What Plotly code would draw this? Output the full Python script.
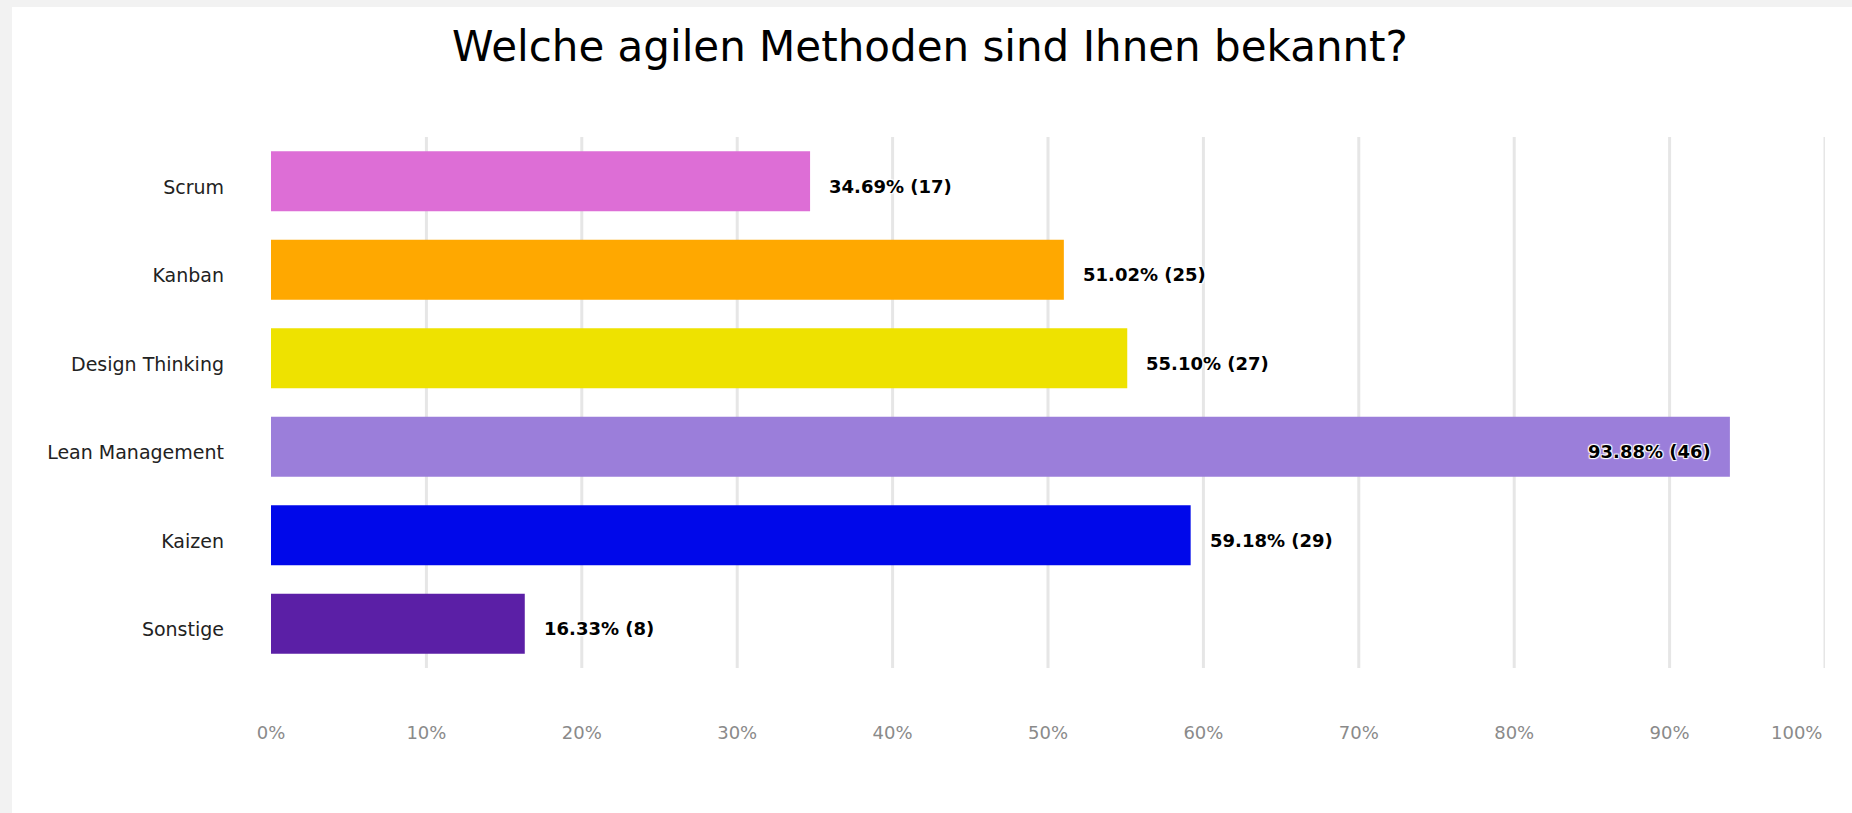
import plotly.graph_objects as go

categories = ["Scrum", "Kanban", "Design Thinking", "Lean Management", "Kaizen", "Sonstige"]
percent = [34.69, 51.02, 55.10, 93.88, 59.18, 16.33]
counts = [17, 25, 27, 46, 29, 8]
colors = ["#DD6ED6", "#FFA800", "#EEE200", "#9B7EDA", "#0008EA", "#5B1FA6"]
tick_vals = [0, 10, 20, 30, 40, 50, 60, 70, 80, 90]
tick_text = ["0%", "10%", "20%", "30%", "40%", "50%", "60%", "70%", "80%", "90%"]
last_tick_val = 100
last_tick_text = "100%"
grid_vals = [10, 20, 30, 40, 50, 60, 70, 80, 90, 100]
title_text = "Welche agilen Methoden sind Ihnen bekannt?"

FONT = "DejaVu Sans"
halo = "1px 1px 1px white, -1px -1px 1px white, 1px -1px 1px white, -1px 1px 1px white"
TICKFONT = dict(family=FONT, size=18, color="#8a8a8a")

L, R, T, B = 271, 27, 137, 145
PW = 1852 - L - R
PH = 813 - T - B

fig = go.Figure()
fig.add_trace(go.Bar(
    x=percent, y=categories, orientation="h",
    marker=dict(color=colors, line=dict(width=0)),
    width=0.68, hoverinfo="skip",
))

annotations = []
for cat, p, n in zip(categories, percent, counts):
    inside = p > 85
    annotations.append(dict(
        x=p, y=cat, xref="x", yref="y",
        text=f"{p:.2f}% ({n})", showarrow=False,
        xanchor="right" if inside else "left",
        xshift=-17 if inside else 17, yshift=-5,
        font=dict(family=FONT, size=18, color="#000000", weight="bold", shadow=halo),
    ))
# last tick label, kept inside the panel as in the original
annotations.append(dict(
    x=last_tick_val, y=0, xref="x", yref="paper", text=last_tick_text, showarrow=False,
    xanchor="right", yanchor="middle", xshift=-1, yshift=-64, font=TICKFONT,
))

shapes = [dict(type="rect", xref="paper", yref="paper",
               x0=(12 - L) / PW, x1=1.1,
               y0=-0.5, y1=(T + PH - 7) / PH,
               fillcolor="white", line=dict(width=0), layer="below")]
for g in grid_vals:
    shapes.append(dict(type="line", xref="x", yref="paper", x0=g, x1=g, y0=0, y1=1,
                       line=dict(color="#e6e6e6", width=3), layer="below"))

fig.update_layout(
    width=1852, height=813,
    margin=dict(l=L, r=R, t=T, b=B, pad=0),
    paper_bgcolor="#f2f2f2", plot_bgcolor="rgba(0,0,0,0)",
    title=dict(text=title_text, x=930 / 1852, xanchor="center", xref="container",
               y=1 - 46 / 813, yanchor="middle", yref="container",
               font=dict(family=FONT, size=42, color="#000000")),
    showlegend=False,
    xaxis=dict(range=[0, 100], tickvals=tick_vals, ticktext=tick_text, showgrid=False,
               zeroline=False, showline=False, ticks="", ticklabelstandoff=52,
               tickfont=TICKFONT, fixedrange=True),
    yaxis=dict(autorange="reversed", showgrid=False, zeroline=False, showline=False,
               ticks="", ticklabelstandoff=46, ticklabelshift=-6,
               tickfont=dict(family=FONT, size=19, color="#222222"), fixedrange=True),
    annotations=annotations,
    shapes=shapes,
)

fig.write_html("out.html", config={"displayModeBar": False})
